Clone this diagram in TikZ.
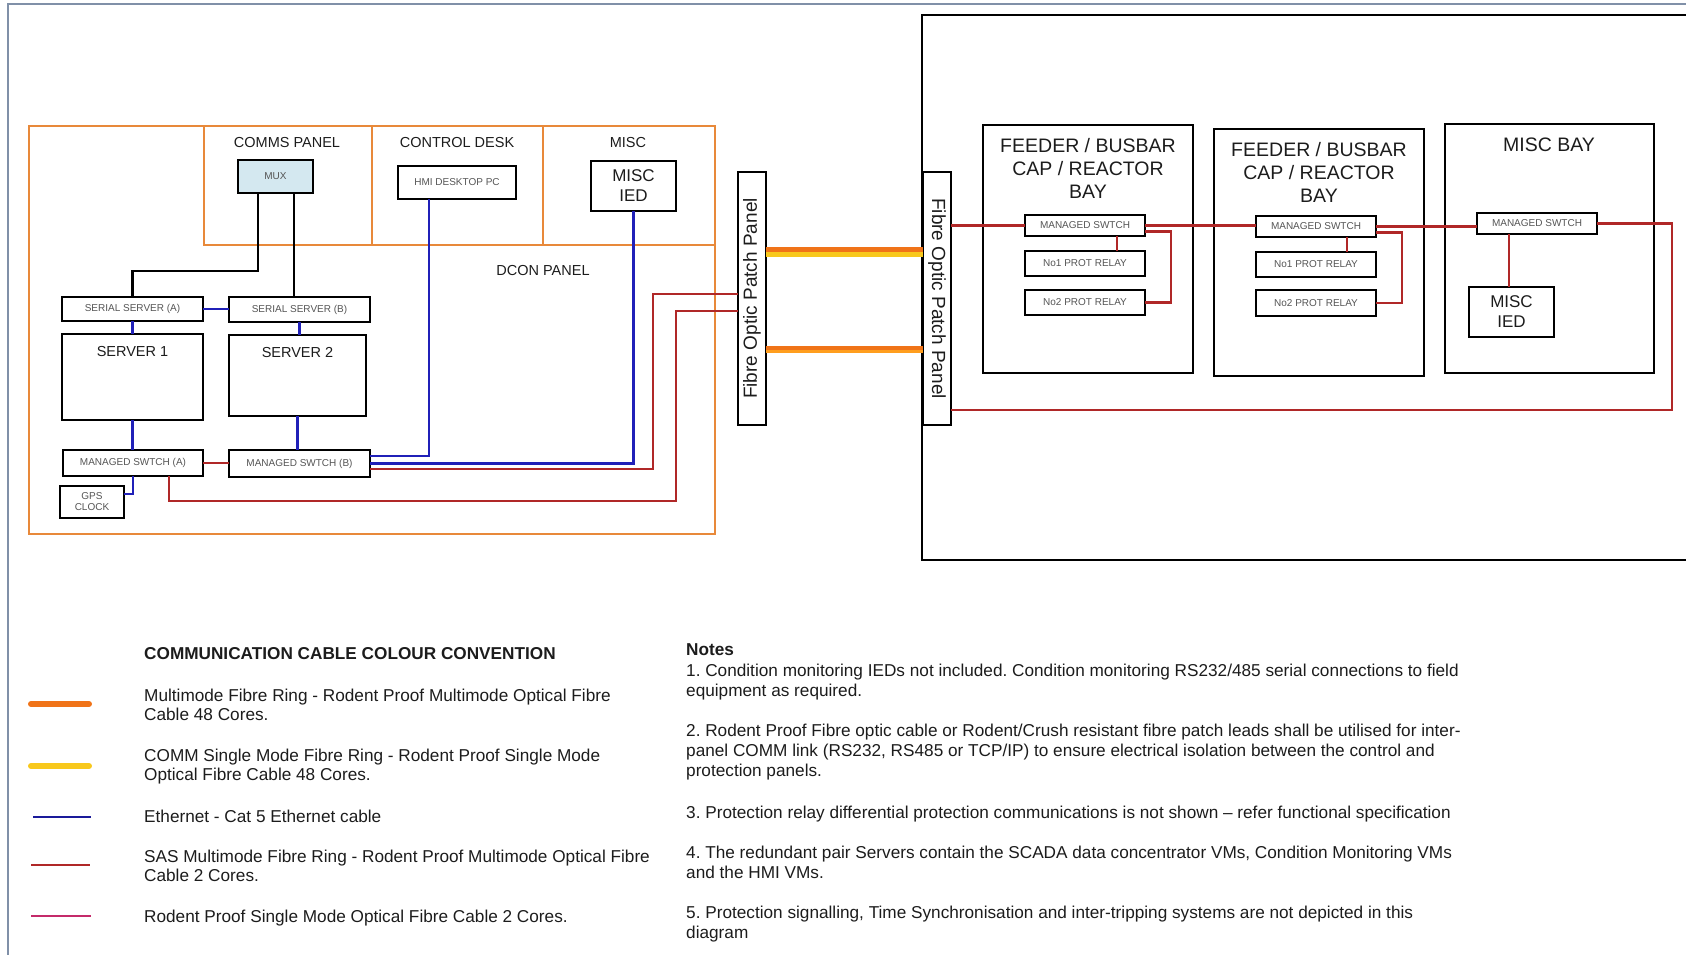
\documentclass[tikz,border=0pt]{standalone}
\usepackage{fontspec}
\setmainfont{Liberation Sans}
\frenchspacing
\definecolor{orng}{HTML}{E8893A}
\definecolor{cabO}{HTML}{F07318}
\definecolor{cabY}{HTML}{F8C81C}
\definecolor{cabL}{HTML}{FF9E1E}
\definecolor{ethc}{HTML}{2020B8}
\definecolor{ethl}{HTML}{1A1A9A}
\definecolor{sasc}{HTML}{B02828}
\definecolor{magc}{HTML}{C42A6A}
\definecolor{frm}{HTML}{8090A8}
\definecolor{muxf}{HTML}{D4E8F0}
\definecolor{txt}{HTML}{1C1C1C}
\definecolor{smt}{HTML}{555555}
\begin{document}
\begin{tikzpicture}[x=1pt,y=-1pt,
  box/.style={draw=black, line width=2.7pt, fill=white, inner sep=0pt, outer sep=0pt},
  frame/.style={draw=black, line width=2.7pt, inner sep=0pt, outer sep=0pt},
  panel/.style={draw=orng, line width=2.5pt, inner sep=0pt, outer sep=0pt},
  sm/.style={font=\fontsize{10}{11}\selectfont, text=smt, align=center},
  lbl/.style={font=\fontsize{14.5}{17}\selectfont, text=txt},
  iedt/.style={font=\fontsize{17}{20}\selectfont, text=txt, align=center},
  baylbl/.style={font=\fontsize{19.5}{23}\selectfont, text=txt, align=center},
  ppt/.style={font=\fontsize{19}{22}\selectfont, text=txt},
  blk/.style={draw=black, line width=2.7pt},
  eth/.style={draw=ethc, line width=2.7pt},
  sas/.style={draw=sasc, line width=2.7pt},
  btxt/.style={font=\fontsize{17.2}{19.6}\selectfont, text=txt, align=left, anchor=north west, inner sep=0pt},
  ntxt/.style={font=\fontsize{17.2}{20.4}\selectfont, text=txt, align=left, anchor=north west, inner sep=0pt}
]
\useasboundingbox (0,0) rectangle (1686,955);
\clip (0,0) rectangle (1686,955);

% outer frame
\draw[frm, line width=1.5pt] (8,955) -- (8,4) -- (1686,4);

% DCON panel
\node[panel, minimum width=686pt, minimum height=408pt] (dcon) at (372,330) {};
\draw[orng, line width=2.5pt] (204,126) -- (204,245) -- (715,245);
\draw[orng, line width=2.5pt] (372,126) -- (372,245);
\draw[orng, line width=2.5pt] (543,126) -- (543,245);
\node[lbl] (commst) at (287,143) {COMMS PANEL};
\node[lbl] (ctrlt) at (457,143) {CONTROL DESK};
\node[lbl] (misct) at (628,143) {MISC};
\node[lbl] (dcont) at (543,271) {DCON PANEL};

% field area
\node[draw=black, line width=2pt, inner sep=0pt, outer sep=0pt, minimum width=800pt, minimum height=545pt, anchor=north west] (field) at (922,15) {};
\node[frame, minimum width=210pt, minimum height=248pt, anchor=north west] (bay1) at (983,125) {};
\node[frame, minimum width=210pt, minimum height=247pt, anchor=north west] (bay2) at (1214,129) {};
\node[frame, minimum width=209pt, minimum height=249pt, anchor=north west] (bay3) at (1445,124) {};
\node[baylbl] (bay1t) at (1088,168) {FEEDER / BUSBAR\\CAP / REACTOR\\BAY};
\node[baylbl] (bay2t) at (1319,172) {FEEDER / BUSBAR\\CAP / REACTOR\\BAY};
\node[baylbl] (bay3t) at (1549,145) {MISC BAY};

% left devices
\node[box, fill=muxf, minimum width=75pt, minimum height=33pt, sm] (mux) at (275.5,176.5) {MUX};
\node[box, minimum width=118pt, minimum height=33pt, sm] (hmi) at (457,182.5) {HMI DESKTOP PC};
\node[box, minimum width=85pt, minimum height=50pt, iedt] (ied1) at (633.5,186) {MISC\\IED};
\node[box, minimum width=141pt, minimum height=24pt, sm] (serA) at (132.5,309) {SERIAL SERVER (A)};
\node[box, minimum width=141pt, minimum height=25pt, sm] (serB) at (299.5,309.5) {SERIAL SERVER (B)};
\node[box, minimum width=141pt, minimum height=86pt] (srv1) at (132.5,377) {};
\node[box, minimum width=137pt, minimum height=81pt] (srv2) at (297.5,375.5) {};
\node[lbl] (srv1t) at (132.5,352) {SERVER 1};
\node[lbl] (srv2t) at (297.5,353) {SERVER 2};
\node[box, minimum width=140pt, minimum height=26pt, sm] (swA) at (133,463) {MANAGED SWTCH (A)};
\node[box, minimum width=141pt, minimum height=27pt, sm] (swB) at (299.5,463.5) {MANAGED SWTCH (B)};
\node[box, minimum width=64pt, minimum height=32pt, sm] (gps) at (92,502) {GPS\\CLOCK};

% patch panels
\node[box, line width=2pt, minimum width=28pt, minimum height=253pt] (ppL) at (752,298.5) {};
\node[ppt, rotate=90] (ppLt) at (ppL.center) {Fibre Optic Patch Panel};
\node[box, line width=2pt, minimum width=28pt, minimum height=253pt] (ppR) at (937,298.5) {};
\node[ppt, rotate=-90] (ppRt) at (ppR.center) {Fibre Optic Patch Panel};

% right devices
\node[box, minimum width=120pt, minimum height=21pt, sm] (sw1) at (1085,225.5) {MANAGED SWTCH};
\node[box, minimum width=120pt, minimum height=25pt, sm] (r11) at (1085,263.5) {No1 PROT RELAY};
\node[box, minimum width=120pt, minimum height=25pt, sm] (r12) at (1085,302.5) {No2 PROT RELAY};
\node[box, minimum width=120pt, minimum height=21pt, sm] (sw2) at (1316,226.5) {MANAGED SWTCH};
\node[box, minimum width=120pt, minimum height=25pt, sm] (r21) at (1316,264.5) {No1 PROT RELAY};
\node[box, minimum width=120pt, minimum height=26pt, sm] (r22) at (1316,303) {No2 PROT RELAY};
\node[box, minimum width=120pt, minimum height=21pt, sm] (sw3) at (1537,223.5) {MANAGED SWTCH};
\node[box, minimum width=85pt, minimum height=50pt, iedt] (ied3) at (1511.5,312) {MISC\\IED};

% coordinates
\coordinate (m2) at ([xshift=18.5pt]mux.south);
\coordinate (rA) at (676,311);
\coordinate (rB) at (653,294);
\coordinate (rR) at (1672,410);
\coordinate (s3) at ([xshift=-28pt]sw3.south);

% black serial links
\draw[blk] ([xshift=-17.5pt]mux.south) -- ++(0,78) -| (serA.north);
\draw[blk] (m2) -- (m2 |- serB.north);

% ethernet
\draw[eth] (serA.east) -- (serA.east -| serB.west);
\draw[eth] (serA.south) -- (srv1.north);
\draw[eth] (serB.south) -- (serB.south |- srv2.north);
\draw[eth] (srv1.south) -- (srv1.south |- swA.north);
\draw[eth] (srv2.south) -- (srv2.south |- swB.north);
\draw[eth] (swA.south) |- ([yshift=8pt]gps.east);
\draw[eth] ([yshift=7.5pt]swB.east) -| ([xshift=-28pt]hmi.south);
\draw[eth] (swB.east) -| (ied1.south);

% SAS ring
\draw[sas] (swA.east) -- (swA.east -| swB.west);
\draw[sas] ([xshift=36pt]swA.south) -- ++(0,25) -| (rA) -- (rA -| ppL.west);
\draw[sas] ([yshift=-5.5pt]swB.east) -| (rB) -- (rB -| ppL.west);
\draw[sas] (ppR.east |- sw1.west) -- (sw1.west);
\draw[sas] (sw1.east) -- (sw1.east -| sw2.west);
\draw[sas] ([yshift=-6pt]sw1.east) -- ++(26,0) |- (r12.east);
\draw[sas] ([xshift=32pt]sw1.south) -- ([xshift=32pt]r11.north);
\draw[sas] (sw2.east) -- (sw2.east -| sw3.west);
\draw[sas] ([yshift=-6pt]sw2.east) -- ++(26,0) |- (r22.east);
\draw[sas] ([xshift=31pt]sw2.south) -- ([xshift=31pt]r21.north);
\draw[sas] (s3) -- (s3 |- ied3.north);
\draw[sas] (sw3.east) -| (rR) -- (rR -| ppR.east);

% fibre rings
\draw[cabO, line width=5pt] ([yshift=49pt]ppL.east) -- ([yshift=49pt]ppR.west);
\draw[cabY, line width=5pt] ([yshift=44pt]ppL.east) -- ([yshift=44pt]ppR.west);
\draw[cabO, line width=4pt] ([yshift=-49.5pt]ppL.east) -- ([yshift=-49.5pt]ppR.west);
\draw[cabL, line width=3pt] ([yshift=-53pt]ppL.east) -- ([yshift=-53pt]ppR.west);

% legend
\node[btxt, font=\fontsize{17.2}{19.6}\selectfont\bfseries] (legt) at (144,647) {COMMUNICATION CABLE COLOUR CONVENTION};
\draw[cabO, line width=6pt, line cap=round] (31,704) -- (89,704);
\draw[cabY, line width=6pt, line cap=round] (31,766) -- (89,766);
\draw[ethl, line width=2.5pt] (33,817) -- (91,817);
\draw[sasc, line width=2.5pt] (31,865) -- (90,865);
\draw[magc, line width=2.5pt] (31,916) -- (91,916);
\node[btxt] (leg1) at (144,688.5) {Multimode Fibre Ring - Rodent Proof Multimode Optical Fibre\\Cable 48 Cores.};
\node[btxt] (leg2) at (144,748.5) {COMM Single Mode Fibre Ring - Rodent Proof Single Mode\\Optical Fibre Cable 48 Cores.};
\node[btxt] (leg3) at (144,809.5) {Ethernet - Cat 5 Ethernet cable};
\node[btxt] (leg4) at (144,849.5) {SAS Multimode Fibre Ring - Rodent Proof Multimode Optical Fibre\\Cable 2 Cores.};
\node[btxt] (leg5) at (144,909.5) {Rodent Proof Single Mode Optical Fibre Cable 2 Cores.};

% notes
\node[ntxt, font=\fontsize{17.2}{20.4}\selectfont\bfseries] (notest) at (686,643.5) {Notes};
\node[ntxt] (n1) at (686,663.5) {1. Condition monitoring IEDs not included. Condition monitoring RS232/485 serial connections to field\\equipment as required.};
\node[ntxt] (n2) at (686,723.5) {2. Rodent Proof Fibre optic cable or Rodent/Crush resistant fibre patch leads shall be utilised for inter-\\panel COMM link (RS232, RS485 or TCP/IP) to ensure electrical isolation between the control and\\protection panels.};
\node[ntxt] (n3) at (686,805.5) {3. Protection relay differential protection communications is not shown – refer functional specification};
\node[ntxt] (n4) at (686,845.5) {4. The redundant pair Servers contain the SCADA data concentrator VMs, Condition Monitoring VMs\\and the HMI VMs.};
\node[ntxt] (n5) at (686,905.5) {5. Protection signalling, Time Synchronisation and inter-tripping systems are not depicted in this\\diagram};
\end{tikzpicture}
\end{document}
